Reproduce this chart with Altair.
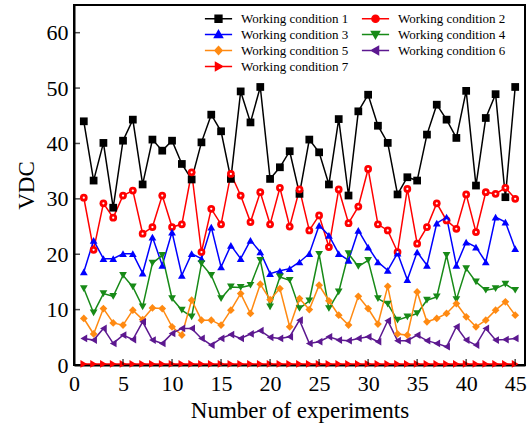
import altair as alt
import pandas as pd

experiments = list(range(1, 46))

wc1 = [44.0, 33.3, 40.1, 28.4, 40.5, 44.3, 32.6, 40.7, 38.7, 40.5,
       36.3, 33.5, 40.2, 45.2, 42.2, 33.6, 49.4, 43.8, 50.2, 33.6,
       35.7, 38.6, 30.9, 40.7, 38.4, 32.6, 44.4, 30.6, 45.8, 48.8,
       43.2, 40.1, 30.8, 33.9, 33.3, 41.6, 47.0, 44.3, 41.0, 49.5,
       32.4, 44.6, 48.9, 30.3, 50.2]
wc2 = [30.2, 20.8, 29.2, 26.6, 30.6, 31.5, 23.7, 24.9, 30.6, 24.9,
       25.4, 34.8, 20.4, 28.2, 25.4, 34.5, 30.6, 25.8, 31.2, 25.4,
       32.0, 25.0, 31.7, 24.3, 27.0, 21.3, 31.7, 25.6, 28.6, 35.4,
       25.4, 24.3, 20.4, 31.8, 21.9, 24.9, 29.2, 26.1, 24.6, 30.8,
       24.0, 31.2, 30.9, 32.0, 30.0]
wc3 = [16.8, 22.5, 19.2, 19.2, 20.1, 20.1, 16.6, 23.1, 18.0, 24.0,
       16.2, 20.1, 19.2, 24.9, 17.7, 21.6, 19.2, 22.5, 20.4, 16.5,
       17.0, 17.4, 18.6, 20.1, 25.2, 23.4, 20.1, 18.9, 24.3, 21.3,
       18.6, 17.1, 20.2, 15.4, 20.4, 18.0, 25.6, 26.7, 18.0, 22.2,
       21.3, 18.6, 26.7, 25.8, 21.0]
wc4 = [13.8, 9.4, 12.9, 12.4, 16.2, 14.1, 10.5, 18.4, 19.8, 12.0,
       9.9, 8.7, 18.3, 16.2, 12.0, 14.1, 14.0, 14.4, 18.9, 10.5,
       15.9, 15.3, 10.2, 11.6, 20.0, 10.2, 13.2, 20.1, 17.8, 18.9,
       12.0, 11.0, 8.1, 8.7, 9.3, 11.7, 12.3, 19.8, 11.8, 17.4,
       15.0, 13.5, 13.8, 14.6, 13.5]
wc5 = [8.4, 5.6, 10.2, 7.6, 7.2, 9.9, 8.2, 10.3, 10.2, 6.9,
       5.4, 11.7, 8.1, 8.1, 7.2, 9.9, 12.9, 9.3, 14.6, 11.8,
       13.8, 6.9, 12.0, 10.0, 14.4, 11.6, 9.0, 7.2, 12.4, 10.2,
       7.4, 14.2, 5.6, 5.4, 13.2, 7.8, 8.4, 9.3, 11.1, 8.7,
       6.9, 8.1, 9.9, 11.4, 9.0]
wc6 = [4.8, 4.5, 6.6, 3.9, 5.4, 4.6, 7.8, 4.5, 3.9, 5.7,
       6.6, 6.6, 4.8, 3.6, 4.8, 5.5, 4.8, 5.6, 6.2, 5.0,
       4.8, 5.1, 8.1, 3.9, 4.2, 5.1, 4.5, 4.4, 4.8, 5.1,
       4.2, 8.0, 4.4, 4.4, 5.4, 4.4, 3.9, 3.3, 6.9, 4.5,
       3.6, 6.6, 4.5, 4.6, 4.8]
wc7 = [0.2] * 45

series_names = ["Working condition 1", "Working condition 2", "Working condition 3",
                "Working condition 4", "Working condition 5", "Working condition 6",
                "Working condition 7"]
series_colors = ["#000000", "#FF0000", "#0000FF", "#178A17", "#FF8A12", "#5C1890", "#FF0000"]
series_shapes = ["square", "circle", "triangle-up", "triangle-down", "diamond",
                 "triangle-left", "triangle-right"]
legend_paths = [
    "M-3.4,0H3.4M-0.85,-0.85H0.85V0.85H-0.85Z",
    "M-3.4,0H3.4M-0.9,0A0.9,0.9 0 1,0 0.9,0A0.9,0.9 0 1,0 -0.9,0Z",
    "M-3.4,0H3.4M0,-1L1,0.75H-1Z",
    "M-3.4,0H3.4M0,1L1,-0.75H-1Z",
    "M-3.4,0H3.4M0,-1L0.9,0L0,1L-0.9,0Z",
    "M-3.4,0H3.4M-1,0L0.75,-1V1Z",
    "M-3.4,0H3.4M1,0L-0.75,-1V1Z",
]
x_ticks = [0, 5, 10, 15, 20, 25, 30, 35, 40, 45]
y_ticks = [0, 10, 20, 30, 40, 50, 60]

all_series = [wc1, wc2, wc3, wc4, wc5, wc6, wc7]
rows = []
for name, vals in zip(series_names, all_series):
    for e, v in zip(experiments, vals):
        rows.append({"Experiment": e, "VDC": v, "Series": name})
df = pd.DataFrame(rows)

FONT = "Liberation Serif"
xs = alt.Scale(domain=[0, 46], nice=False, zero=False)
ys = alt.Scale(domain=[0, 65], nice=False)
color_scale = alt.Scale(domain=series_names, range=series_colors)

x_axis = alt.Axis(values=x_ticks, title="Number of experiments", grid=False, ticks=False,
                  tickSize=0, domainColor="black", domainWidth=2, labelFont=FONT,
                  labelFontSize=22, labelColor="black", labelPadding=8, labelFlush=False,
                  titleFont=FONT, titleFontSize=23, titleFontWeight="normal",
                  titleColor="black", titlePadding=5)
y_axis = alt.Axis(values=y_ticks, title="VDC", grid=False, ticks=False, tickSize=0,
                  domainColor="black", domainWidth=2, labelFont=FONT, labelFontSize=22,
                  labelColor="black", labelPadding=6, labelFlush=False,
                  titleFont=FONT, titleFontSize=23, titleFontWeight="normal",
                  titleColor="black", titlePadding=8)

x_enc = alt.X("Experiment:Q", scale=xs, axis=x_axis)
y_enc = alt.Y("VDC:Q", scale=ys, axis=y_axis)

base = alt.Chart(df)

lines = base.mark_line(strokeWidth=1.5).encode(
    x=x_enc, y=y_enc,
    color=alt.Color("Series:N", scale=color_scale, legend=None),
)

points = base.mark_point(filled=True, opacity=1, size=60).encode(
    x=x_enc, y=y_enc,
    color=alt.Color("Series:N", scale=color_scale, legend=None),
    shape=alt.Shape("Series:N", scale=alt.Scale(domain=series_names, range=series_shapes),
                    legend=None),
)

dots = base.transform_filter(alt.datum.Series == "Working condition 2").mark_point(
    filled=True, opacity=1, size=5, color="white").encode(x=x_enc, y=y_enc)

leg = alt.Legend(title=None, orient="none", legendX=138, legendY=7, columns=2,
                 direction="horizontal", labelFont=FONT, labelFontSize=13)

legend_layer = base.transform_filter("false").mark_point(
    filled=False, opacity=1, strokeWidth=1.5).encode(
    x=x_enc, y=y_enc,
    color=alt.Color("Series:N", scale=color_scale, legend=leg),
    fill=alt.Fill("Series:N", scale=color_scale, legend=leg),
    shape=alt.Shape("Series:N", scale=alt.Scale(domain=series_names, range=legend_paths),
                    legend=leg),
)

xt = alt.Chart(pd.DataFrame({"Experiment": x_ticks})).mark_tick(
    orient="vertical", size=6, thickness=1.5, color="black", yOffset=-3).encode(
    x=x_enc, y=alt.datum(0))
yt = alt.Chart(pd.DataFrame({"VDC": y_ticks})).mark_tick(
    orient="horizontal", size=6, thickness=1.5, color="black", xOffset=3).encode(
    y=y_enc, x=alt.datum(0))

chart = alt.layer(lines, points, dots, legend_layer, xt, yt).resolve_scale(
    shape="independent").resolve_legend(
    color="independent", fill="independent", shape="independent").properties(
    width=451, height=360,
    padding={"left": 74, "top": 5, "right": 7, "bottom": 65},
    autosize=alt.AutoSizeParams(type="none"),
).configure_view(stroke="black", strokeWidth=2).configure_legend(
    labelFont=FONT, labelFontSize=13, labelColor="black", symbolSize=64,
    symbolStrokeWidth=1.5, labelOffset=16, padding=0, columnPadding=9,
    rowPadding=1,
)

chart.save("out.html", embed_options={"renderer": "svg", "actions": False})
